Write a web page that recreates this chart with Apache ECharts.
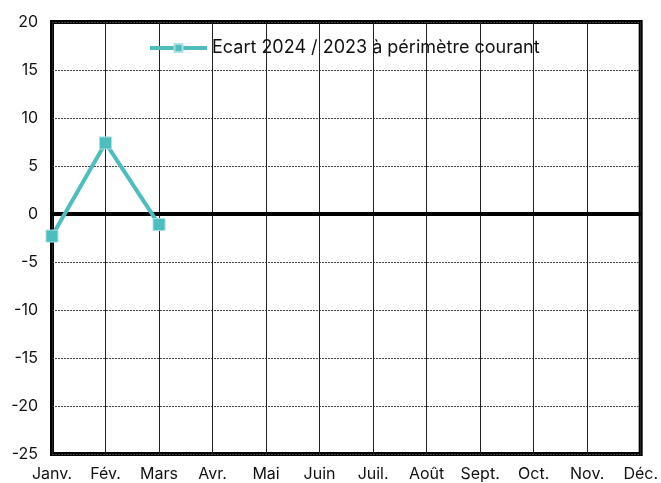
<!DOCTYPE html>
<html>
<head>
<meta charset="utf-8">
<script src="https://cdn.jsdelivr.net/npm/echarts@6/dist/echarts.min.js"></script>
<style>
html,body{margin:0;padding:0;background:#fff;}
#main{width:661px;height:483px;}
</style>
</head>
<body>
<div id="main"></div>
<script>
var months = ["Janv.","Fév.","Mars","Avr.","Mai","Juin","Juil.","Août","Sept.","Oct.","Nov.","Déc."];
var ecart = [-2.3, 7.4, -1.1];
var seriesName = "Ecart 2024 / 2023 à périmètre courant";

window.onload = function(){
	var myChart = echarts.init(document.getElementById('main'));
	var option = {
		backgroundColor: 'white',
		textStyle: { fontFamily: 'Inter' },
		legend: {
			data: [seriesName],
			top: 34,
			left: 143,
			itemWidth: 57,
			itemHeight: 10,
			itemGap: 3,
			lineStyle: { width: 4 },
			textStyle: { fontSize: 18, color: '#111', fontFamily: 'Inter' }
		},
		grid: {
			left: 52, right: 19, top: 22, bottom: 29,
			show: true,
			borderColor: '#000',
			borderWidth: 4,
			containLabel: false
		},
		xAxis: {
			type: 'category',
			data: months,
			boundaryGap: false,
			axisLine: { show: false },
			axisTick: { show: false },
			axisLabel: { color: '#111', fontSize: 16, margin: 12, interval: 0 },
			splitLine: { show: true, lineStyle: { color: '#222', width: 1, type: 'solid' } }
		},
		yAxis: {
			type: 'value',
			min: -25, max: 20, interval: 5,
			axisLine: { show: false },
			axisTick: { show: false },
			axisLabel: { color: '#111', fontSize: 16, margin: 14 },
			splitLine: { show: true, lineStyle: { color: '#444', width: 1, type: [2, 1] } }
		},
		series: [{
			name: seriesName,
			type: 'line',
			data: ecart,
			symbol: 'rect',
			symbolSize: 12,
			itemStyle: { color: '#4DBDBD', borderColor: '#A8E0E0', borderWidth: 1 },
			lineStyle: { color: '#4DBDBD', width: 4 },
			z: 5,
			markLine: {
				silent: true,
				symbol: 'none',
				label: { show: false },
				lineStyle: { color: '#000', width: 4, type: 'solid' },
				data: [{ yAxis: 0 }],
				z: 1
			}
		}]
	};
	myChart.setOption(option);
}
</script>
</body>
</html>
